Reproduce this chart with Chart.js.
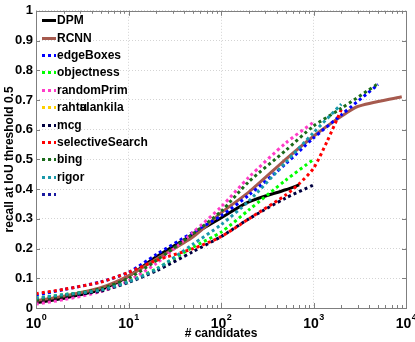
<!DOCTYPE html>
<html>
<head>
<meta charset="utf-8">
<script src="https://cdn.jsdelivr.net/npm/chart.js@4.4.1/dist/chart.umd.min.js"></script>
<style>
  html, body { margin: 0; padding: 0; background: #fff; }
</style>
</head>
<body>
<canvas id="chart" width="415" height="342"></canvas>
<script>
// axis ticks
const xTickValues = [1, 10, 100, 1000, 10000];
const xTickExponents = ["0", "1", "2", "3", "4"];

// recall curves (x = # candidates, y = recall)
const dpmX = [1, 2, 5, 10, 20, 50, 100, 200, 500, 700];
const dpmY = [0.018, 0.033, 0.062, 0.107, 0.172, 0.248, 0.303, 0.357, 0.398, 0.414];

const rcnnX = [1, 2, 5, 10, 20, 50, 100, 200, 500, 1000, 2000, 3000, 9000];
const rcnnY = [0.025, 0.04, 0.068, 0.108, 0.165, 0.24, 0.32, 0.39, 0.5, 0.578, 0.645, 0.678, 0.711];

const edgeX = [1, 2, 5, 10, 20, 50, 100, 200, 500, 1000, 2000, 5000];
const edgeY = [0.043, 0.062, 0.088, 0.12, 0.18, 0.255, 0.31, 0.38, 0.485, 0.572, 0.65, 0.752];

const objX = [1, 2, 5, 10, 20, 50, 100, 200, 500, 1000];
const objY = [0.032, 0.045, 0.06, 0.09, 0.132, 0.205, 0.255, 0.33, 0.43, 0.5];

const primX = [1, 2, 5, 10, 20, 50, 100, 200, 500, 1000];
const primY = [0.013, 0.028, 0.055, 0.092, 0.15, 0.255, 0.34, 0.44, 0.555, 0.625];

const rahtuX = [];
const rahtuY = [];

const mcgX = [1, 2, 5, 10, 20, 50, 100, 200, 500, 1000];
const mcgY = [0.027, 0.04, 0.057, 0.086, 0.125, 0.19, 0.24, 0.3, 0.37, 0.414];

const ssX = [1, 2, 5, 10, 20, 50, 100, 200, 500, 700, 1000, 1400, 2000];
const ssY = [0.048, 0.063, 0.087, 0.12, 0.16, 0.2, 0.24, 0.3, 0.38, 0.418, 0.47, 0.56, 0.668];

const bingX = [1, 2, 5, 10, 20, 50, 100, 200, 500, 1000, 2000, 5000];
const bingY = [0.028, 0.042, 0.065, 0.1, 0.16, 0.25, 0.325, 0.425, 0.53, 0.612, 0.672, 0.755];

const rigorX = [1, 2, 5, 10, 20, 50, 100, 200, 500, 1000, 2000];
const rigorY = [0.033, 0.045, 0.06, 0.088, 0.13, 0.215, 0.28, 0.36, 0.49, 0.59, 0.686];

const extraX = [];
const extraY = [];

const FONT = '"Liberation Sans", Arial, Helvetica, sans-serif';
const DOTS = [3, 3];

function series(label, xs, ys, color, dash) {
  return {
    label,
    data: xs.map((x, i) => ({ x, y: ys[i] })),
    borderColor: color,
    backgroundColor: color,
    borderWidth: 3,
    borderDash: dash || [],
    borderCapStyle: "butt",
    pointRadius: 0,
    tension: 0.25,
    fill: false
  };
}

const datasets = [
  series("DPM", dpmX, dpmY, "#000000"),
  series("RCNN", rcnnX, rcnnY, "#a65a4e"),
  series("edgeBoxes", edgeX, edgeY, "#0000ff", DOTS),
  series("objectness", objX, objY, "#00ff00", DOTS),
  series("randomPrim", primX, primY, "#ff3cc8", DOTS),
  series("rahtu_alankila", rahtuX, rahtuY, "#ffd000", DOTS),
  series("mcg", mcgX, mcgY, "#000040", DOTS),
  series("selectiveSearch", ssX, ssY, "#ff0000", DOTS),
  series("bing", bingX, bingY, "#1a6b1a", DOTS),
  series("rigor", rigorX, rigorY, "#1a99aa", DOTS),
  series("", extraX, extraY, "#1a1aa0", DOTS)
];
// later series on top, like the original plot
datasets.forEach((d, i) => { d.order = -i; });

// frame + small inward tick marks
const framePlugin = {
  id: "frame",
  afterDatasetsDraw(chart) {
    const { ctx, chartArea: a, scales } = chart;
    ctx.save();
    ctx.strokeStyle = "#7f7f7f";
    ctx.lineWidth = 1;
    ctx.beginPath();
    for (let v = 0; v <= 10; v++) {
      const y = Math.round(scales.y.getPixelForValue(v / 10)) + 0.5;
      ctx.moveTo(a.left, y); ctx.lineTo(a.left + 4, y);
      ctx.moveTo(a.right, y); ctx.lineTo(a.right - 4, y);
    }
    for (let d = 1; d < 10000; d *= 10) {
      for (let m = 1; m < 10; m++) {
        const x = Math.round(scales.x.getPixelForValue(d * m)) + 0.5;
        const len = m === 1 ? 5 : 3;
        ctx.moveTo(x, a.bottom); ctx.lineTo(x, a.bottom - len);
        ctx.moveTo(x, a.top); ctx.lineTo(x, a.top + len);
      }
    }
    ctx.stroke();
    ctx.strokeRect(Math.round(a.left) + 0.5, Math.round(a.top) + 0.5,
      Math.round(a.right - a.left), Math.round(a.bottom - a.top));
    ctx.restore();
  }
};

// x tick labels with superscript exponents
const powerLabels = {
  id: "powerLabels",
  afterDraw(chart) {
    const { ctx, scales } = chart;
    ctx.save();
    ctx.fillStyle = "#000";
    ctx.textBaseline = "alphabetic";
    ctx.textAlign = "left";
    xTickValues.forEach((v, i) => {
      const px = scales.x.getPixelForValue(v);
      ctx.font = "bold 14px " + FONT;
      const wBase = ctx.measureText("10").width;
      ctx.font = "bold 9px " + FONT;
      const wExp = ctx.measureText(xTickExponents[i]).width;
      const start = px - (wBase + wExp) / 2;
      ctx.font = "bold 14px " + FONT;
      ctx.fillText("10", start, 328);
      ctx.font = "bold 9px " + FONT;
      ctx.fillText(xTickExponents[i], start + wBase + 0.5, 320);
    });
    ctx.restore();
  }
};

// legend in the upper left corner of the plot
const innerLegend = {
  id: "innerLegend",
  afterDraw(chart) {
    const { ctx, chartArea: a } = chart;
    ctx.save();
    ctx.font = "bold 12px " + FONT;
    ctx.textBaseline = "middle";
    ctx.textAlign = "left";
    chart.data.datasets.forEach((d, i) => {
      const y = Math.round(a.top + 9.3 + i * 17.4) + 0.5;
      const x0 = a.left + 6;
      ctx.strokeStyle = d.borderColor;
      ctx.lineWidth = 3;
      ctx.lineCap = "butt";
      ctx.setLineDash(d.borderDash);
      ctx.beginPath();
      ctx.moveTo(x0, y);
      ctx.lineTo(x0 + 14, y);
      ctx.stroke();
      ctx.setLineDash([]);
      ctx.fillStyle = "#000";
      const tx = x0 + 15;
      const parts = d.label.split("_");
      if (parts.length === 2) {
        // the two names overprint each other in the original legend
        ctx.fillText(parts[0], tx, y);
        const shift = ctx.measureText(parts[0].slice(0, -1)).width;
        ctx.fillText(parts[1], tx + shift, y);
      } else {
        ctx.fillText(d.label, tx, y);
      }
    });
    ctx.restore();
  }
};

new Chart(document.getElementById("chart").getContext("2d"), {
  type: "line",
  data: { datasets },
  options: {
    responsive: false,
    animation: false,
    parsing: true,
    layout: { padding: { top: 8, right: 9, left: 0, bottom: 0 } },
    plugins: { legend: { display: false }, tooltip: { enabled: false } },
    scales: {
      x: {
        type: "logarithmic",
        min: 1,
        max: 10000,
        afterBuildTicks: scale => { scale.ticks = xTickValues.map(value => ({ value })); },
        afterFit: scale => { scale.height = 34; },
        ticks: { display: false },
        grid: { color: "#d4d4d4", drawTicks: false },
        border: { display: false, dash: [1, 2] },
        title: {
          display: true,
          text: "# candidates",
          color: "#000",
          font: { family: FONT, size: 12, weight: "bold" },
          padding: { top: 0, bottom: 1 }
        }
      },
      y: {
        min: 0,
        max: 1,
        afterFit: scale => { scale.width = 36; },
        ticks: {
          stepSize: 0.1,
          color: "#000",
          padding: 3,
          font: { family: FONT, size: 13, weight: "bold" },
          callback: v => String(Math.round(v * 10) / 10)
        },
        grid: { color: "#d4d4d4", drawTicks: false },
        border: { display: false, dash: [1, 2] },
        title: {
          display: true,
          text: "recall at IoU threshold 0.5",
          color: "#000",
          font: { family: FONT, size: 12, weight: "bold" },
          padding: { top: 2, bottom: 0 }
        }
      }
    }
  },
  plugins: [framePlugin, powerLabels, innerLegend]
});
</script>
</body>
</html>
